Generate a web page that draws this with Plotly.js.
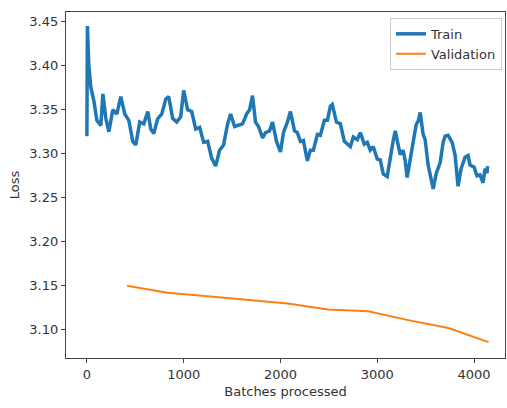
<!DOCTYPE html>
<html>
<head>
<meta charset="utf-8">
<script src="https://cdn.plot.ly/plotly-3.0.1.min.js"></script>
<style>html,body{margin:0;padding:0;background:#fff;}#chart{width:507px;height:408px;}</style>
</head>
<body>
<div id="chart"></div>
<script>
// Train loss
const trainBatches = [0,5,20,41,72,103,144,165,196,227,268,309,350,392,433,474,505,546,588,629,660,691,732,773,815,845,887,928,969,1000,1041,1083,1124,1165,1206,1248,1289,1330,1371,1412,1454,1485,1526,1567,1608,1650,1681,1711,1742,1773,1815,1846,1887,1918,1959,2000,2031,2072,2103,2145,2175,2206,2237,2278,2309,2340,2382,2412,2454,2485,2516,2536,2578,2619,2660,2691,2722,2753,2794,2825,2866,2897,2928,2959,3000,3031,3062,3103,3134,3165,3186,3217,3237,3268,3289,3309,3340,3371,3402,3423,3444,3474,3495,3526,3557,3578,3608,3650,3681,3701,3732,3774,3805,3835,3866,3908,3938,3959,4000,4031,4062,4093,4114,4134,4140];
const trainLoss = [3.320,3.445,3.400,3.375,3.360,3.338,3.332,3.368,3.340,3.325,3.350,3.345,3.365,3.345,3.338,3.314,3.310,3.336,3.334,3.348,3.328,3.323,3.340,3.345,3.362,3.365,3.340,3.336,3.342,3.372,3.350,3.348,3.328,3.330,3.313,3.314,3.295,3.286,3.304,3.310,3.334,3.345,3.331,3.332,3.334,3.345,3.350,3.366,3.336,3.331,3.318,3.324,3.326,3.336,3.314,3.302,3.324,3.336,3.348,3.326,3.324,3.314,3.315,3.292,3.304,3.304,3.322,3.321,3.338,3.338,3.354,3.356,3.336,3.334,3.314,3.311,3.308,3.319,3.316,3.324,3.311,3.313,3.304,3.308,3.294,3.293,3.277,3.274,3.298,3.315,3.326,3.307,3.299,3.304,3.292,3.273,3.293,3.313,3.333,3.337,3.347,3.322,3.316,3.287,3.272,3.260,3.277,3.290,3.313,3.320,3.321,3.313,3.298,3.263,3.283,3.296,3.298,3.287,3.285,3.275,3.276,3.267,3.283,3.278,3.286];

// Validation loss
const valBatches = [415,830,1245,1660,2075,2490,2905,3320,3735,4150];
const valLoss = [3.150,3.142,3.138,3.134,3.130,3.123,3.121,3.111,3.102,3.086];

const xTicks = [0,1000,2000,3000,4000];
const yTicks = [3.10,3.15,3.20,3.25,3.30,3.35,3.40,3.45];

const font = {family: 'DejaVu Sans, sans-serif', size: 13, color: '#333'};

const data = [
  {x: trainBatches, y: trainLoss, type: 'scatter', mode: 'lines', name: 'Train',
   line: {color: '#1f77b4', width: 3.5}},
  {x: valBatches, y: valLoss, type: 'scatter', mode: 'lines', name: 'Validation',
   line: {color: '#ff7f0e', width: 2}}
];

const layout = {
  width: 507, height: 408,
  margin: {l: 66, r: 2, t: 12, b: 50},
  paper_bgcolor: '#fff', plot_bgcolor: '#fff',
  font: font,
  showlegend: true,
  legend: {x: 0.993, y: 0.983, xanchor: 'right', yanchor: 'top',
    bgcolor: 'rgba(255,255,255,0.8)', bordercolor: '#ccc', borderwidth: 1,
    font: {family: 'DejaVu Sans, sans-serif', size: 13, color: '#333'}},
  xaxis: {range: [-216, 4320], tickvals: xTicks, ticktext: xTicks.map(String),
    ticks: 'outside', ticklen: 4, tickcolor: '#444', showline: true, mirror: true,
    linecolor: '#444', linewidth: 1.2, showgrid: false, zeroline: false,
    title: {text: 'Batches processed', font: font, standoff: 6}},
  yaxis: {range: [3.068, 3.461], tickvals: yTicks, ticktext: yTicks.map(v => v.toFixed(2)),
    ticks: 'outside', ticklen: 4, tickcolor: '#444', showline: true, mirror: true,
    linecolor: '#444', linewidth: 1.2, showgrid: false, zeroline: false,
    title: {text: 'Loss', font: font, standoff: 6}}
};

Plotly.newPlot('chart', data, layout, {staticPlot: true, displayModeBar: false});
</script>
</body>
</html>
